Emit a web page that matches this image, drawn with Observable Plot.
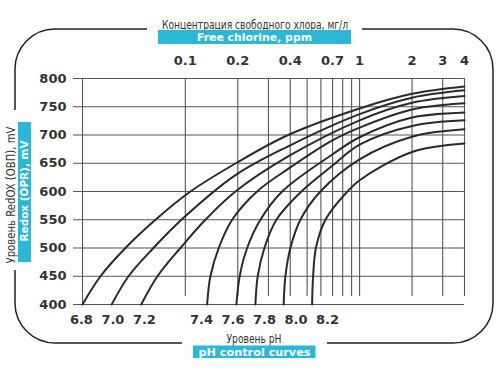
<!DOCTYPE html>
<html><head><meta charset="utf-8">
<script src="https://cdn.jsdelivr.net/npm/d3@7"></script>
<script src="https://cdn.jsdelivr.net/npm/@observablehq/plot@0.6"></script>
<style>body{margin:0;background:#fff}</style>
</head><body><div id="chart"></div>
<script>
// pH control curves: free chlorine (mg/l) vs Redox (mV)
const phLevels = ["6.8", "7.0", "7.2", "7.4", "7.6", "7.8", "8.0", "8.2"];
const chlorine68 = [0.0257, 0.0326, 0.0453, 0.0674, 0.107, 0.195, 0.389, 1, 2, 4];
const redox68    = [400, 450, 500, 550, 600, 650, 700, 747, 773, 786];
const chlorine70 = [0.0378, 0.0472, 0.0656, 0.0950, 0.194, 0.389, 1, 2, 4];
const redox70    = [400, 450, 500, 550, 629, 680, 737, 766, 779];
const chlorine72 = [0.0558, 0.0692, 0.0937, 0.1304, 0.194, 0.389, 1, 2, 4];
const redox72    = [400, 450, 500, 550, 600, 662, 726, 757, 769];
const chlorine74 = [0.1334, 0.1393, 0.1555, 0.1856, 0.2582, 0.389, 0.694, 1, 2, 4];
const redox74    = [400, 450, 500, 550, 600, 640, 690, 713, 745, 756];
const chlorine76 = [0.1964, 0.2051, 0.2263, 0.2697, 0.3593, 0.694, 1, 2, 4];
const redox76    = [400, 450, 500, 550, 600, 665, 696, 731, 740];
const chlorine78 = [0.2525, 0.2603, 0.2843, 0.3332, 0.4636, 0.694, 1, 2, 4];
const redox78    = [400, 450, 500, 550, 600, 645, 683, 716, 726];
const chlorine80 = [0.3668, 0.3752, 0.4009, 0.4574, 0.5957, 1, 2, 4];
const redox80    = [400, 450, 500, 550, 600, 657, 697, 710];
const chlorine82 = [0.534, 0.5411, 0.5615, 0.6365, 0.851, 1, 2, 4];
const redox82    = [400, 450, 500, 550, 600, 620, 670, 685];

const gridChlorine = [0.1, 0.2, 0.3, 0.4, 0.5, 0.6, 0.7, 0.8, 0.9, 1, 2, 3, 4];
const topTickLabels = [0.1, 0.2, 0.4, 0.7, 1, 2, 3, 4];
const redoxTicks = [400, 450, 500, 550, 600, 650, 700, 750, 800];
const chlorineMin = 0.0257, chlorineMax = 4;

const curves = [
  [chlorine68, redox68], [chlorine70, redox70], [chlorine72, redox72], [chlorine74, redox74],
  [chlorine76, redox76], [chlorine78, redox78], [chlorine80, redox80], [chlorine82, redox82]
];
const rows = curves.flatMap(([cs, vs], i) => cs.map((c, j) => ({ph: phLevels[i], c, mv: vs[j]})));

const W = 500, H = 375, mL = 82, mR = 36, mT = 78, mB = 71;

// pH labels sit under each curve's start, spread apart so they do not collide
const xs = Plot.scale({x: {type: "log", domain: [chlorineMin, chlorineMax], range: [mL, W - mR]}});
function centered(ps, gap) {
  let cl = ps.map(p => ({sum: p, n: 1}));
  const left = c => c.sum / c.n - (c.n - 1) * gap / 2;
  const right = c => c.sum / c.n + (c.n - 1) * gap / 2;
  let merged = true;
  while (merged) {
    merged = false;
    for (let i = 0; i < cl.length - 1; i++) {
      if (left(cl[i + 1]) - right(cl[i]) < gap) {
        cl.splice(i, 2, {sum: cl[i].sum + cl[i + 1].sum, n: cl[i].n + cl[i + 1].n});
        merged = true; break;
      }
    }
  }
  return cl.flatMap(c => d3.range(c.n).map(k => left(c) + k * gap));
}
function pushed(ps, gap) {
  const out = [];
  ps.forEach((p, i) => out.push(i ? Math.max(p, out[i - 1] + gap) : p));
  return out;
}
const starts = curves.map(([cs]) => xs.apply(cs[0]));
const cen = centered(starts, 31.5), push = pushed(starts, 31.5);
const phLabels = phLevels.map((ph, i) => ({ph, c: xs.invert((cen[i] + push[i]) / 2)}));

const gridColor = "#555";
const tickFont = {fontSize: 13, fontWeight: "bold", fill: "#333", lineAnchor: "middle"};
const chart = Plot.plot({
  width: W, height: H,
  marginLeft: mL, marginRight: mR, marginTop: mT, marginBottom: mB,
  x: {type: "log", domain: [chlorineMin, chlorineMax], axis: null},
  y: {domain: [400, 800], axis: null},
  style: {fontFamily: "'DejaVu Sans', sans-serif", background: "#fff", color: "#333"},
  marks: [
    Plot.ruleY(redoxTicks, {x1: chlorineMin, x2: chlorineMax, insetLeft: -9, stroke: gridColor, strokeWidth: 1.1}),
    Plot.ruleX(gridChlorine, {y1: 400, y2: 800, insetTop: -8, stroke: gridColor, strokeWidth: 1.1}),
    Plot.ruleX([chlorineMin], {y1: 400, y2: 800, stroke: gridColor, strokeWidth: 1.1}),
    Plot.line(rows, {x: "c", y: "mv", z: "ph", curve: "catmull-rom", stroke: "#2a2a2a", strokeWidth: 2}),
    Plot.text(topTickLabels, {x: d => d, frameAnchor: "top", dy: -18, text: d => String(d), ...tickFont}),
    Plot.text(redoxTicks, {y: d => d, frameAnchor: "left", dx: -16, textAnchor: "end", text: d => String(d), ...tickFont}),
    Plot.text(phLabels, {x: "c", frameAnchor: "bottom", dy: 15, text: "ph", ...tickFont})
  ]
});
document.getElementById("chart").appendChild(chart);

// frame & titles
const svg = d3.select(chart);
const deco = svg.append("g");
const cyan = "#2bb7d5";
const narrow = "'Liberation Sans Narrow', 'DejaVu Sans Condensed', 'Roboto', sans-serif";
deco.append("path")
  .attr("d", "M147,29H55A40,40 0 0 0 15,69V110M15,270V303A40,40 0 0 0 55,343H182M327,343H453A40,40 0 0 0 493,303V69A40,40 0 0 0 453,29H362")
  .attr("fill", "none").attr("stroke", "#222").attr("stroke-width", 1.5);
function label(x, y, txt, opts) {
  const t = deco.append("text").attr("x", 0).attr("y", 0)
    .attr("transform", `translate(${x},${y})` + (opts.rotate ? " rotate(-90)" : ""))
    .attr("text-anchor", "middle").attr("dominant-baseline", "central")
    .attr("font-family", opts.family).attr("font-size", opts.size)
    .attr("font-weight", opts.weight || "normal").attr("fill", opts.fill).text(txt);
  if (opts.len) t.attr("textLength", opts.len).attr("lengthAdjust", "spacingAndGlyphs");
  return t;
}
const bold = "'DejaVu Sans', sans-serif";
// top
label(255, 24.5, "Концентрация свободного хлора, мг/л", {family: narrow, size: 13, fill: "#333", len: 186});
deco.append("rect").attr("x", 158).attr("y", 30).attr("width", 193).attr("height", 14).attr("fill", cyan);
label(254.5, 37, "Free chlorine, ppm", {family: bold, size: 10, weight: "bold", fill: "#fff", len: 115});
// left
label(10, 195, "Уровень RedOX (ОВП), mV", {family: narrow, size: 13, fill: "#333", rotate: true, len: 137});
deco.append("rect").attr("x", 18).attr("y", 122).attr("width", 13).attr("height", 140).attr("fill", cyan);
label(24.5, 191, "Redox (OPR), mV", {family: bold, size: 10, weight: "bold", fill: "#fff", rotate: true, len: 101});
// bottom
label(254, 338.5, "Уровень pH", {family: narrow, size: 13, fill: "#333", len: 55});
deco.append("rect").attr("x", 193).attr("y", 345.5).attr("width", 122.5).attr("height", 12.5).attr("fill", cyan);
label(254.5, 352, "pH control curves", {family: bold, size: 10, weight: "bold", fill: "#fff", len: 112});
</script>
</body></html>
